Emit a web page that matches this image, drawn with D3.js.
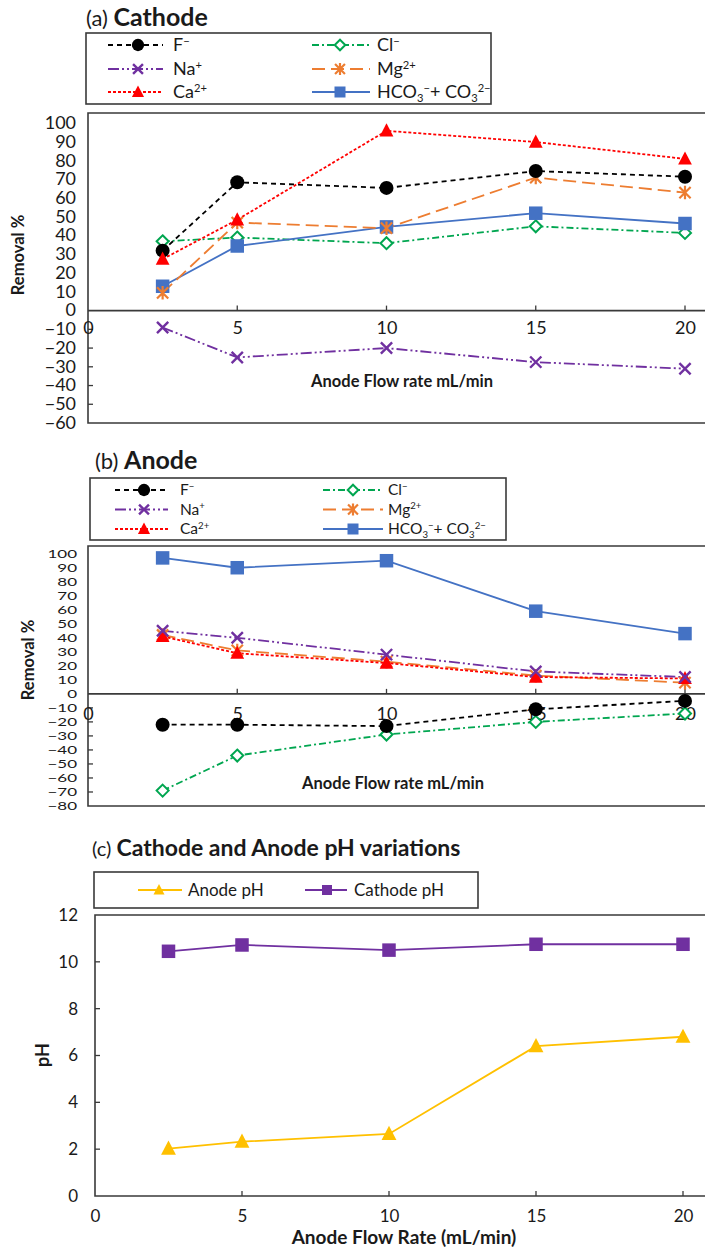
<!DOCTYPE html>
<html><head><meta charset="utf-8">
<script src="https://cdn.jsdelivr.net/npm/d3@7"></script>
<style>
body{margin:0;background:#fff}
svg{display:block}
text{font-family:Lato,"Open Sans",sans-serif;fill:#1a1a1a}
</style>
</head><body>
<svg id="chart" width="705" height="1249"></svg>
<script>
// ---------- DATA ----------
const flowRates = [2.5, 5, 10, 15, 20];
const xTickValues = [0, 5, 10, 15, 20];

const cathodeF    = [32, 68.5, 65.5, 74.5, 71.5];
const cathodeCl   = [37, 39, 36, 45, 41.5];
const cathodeNa   = [-9, -25, -20, -27.5, -31];
const cathodeMg   = [9.5, 47, 44, 71, 63];
const cathodeCa   = [27.5, 48.5, 96, 90, 81];
const cathodeHCO3 = [13, 34.5, 44.7, 52, 46.5];

const anodeF    = [-22, -22, -23, -11, -5];
const anodeCl   = [-69, -44, -29, -20, -14];
const anodeNa   = [45, 40, 28, 16, 12];
const anodeMg   = [42, 31, 23, 13, 8];
const anodeCa   = [41, 29, 22, 12, 11];
const anodeHCO3 = [97, 90, 95, 59, 43];

const anodePH   = [2.02, 2.32, 2.65, 6.4, 6.8];
const cathodePH = [10.45, 10.72, 10.5, 10.75, 10.75];

const removalTicksA = [100, 90, 80, 70, 60, 50, 40, 30, 20, 10, 0, -10, -20, -30, -40, -50, -60];
const removalTicksB = [100, 90, 80, 70, 60, 50, 40, 30, 20, 10, 0, -10, -20, -30, -40, -50, -60, -70, -80];
const phTicks = [0, 2, 4, 6, 8, 10, 12];

// ---------- STYLES ----------
const ionStyle = {
  F:    {color: "#000000", dash: "5,4",            marker: "circle"},
  Cl:   {color: "#00a650", dash: "7,3,2,3",        marker: "diamond"},
  Na:   {color: "#7030a0", dash: "11,3,2,3,2,3",   marker: "x"},
  Mg:   {color: "#ed7d31", dash: "13,6",           marker: "star"},
  Ca:   {color: "#ff0000", dash: "3,2",            marker: "triangle"},
  HCO3: {color: "#4472c4", dash: null,             marker: "square"}
};
const ionLabel = {
  F:  [["F","n"],["\u2212","sup"]],
  Cl: [["Cl","n"],["\u2212","sup"]],
  Na: [["Na","n"],["+","sup"]],
  Mg: [["Mg","n"],["2+","sup"]],
  Ca: [["Ca","n"],["2+","sup"]],
  HCO3: [["HCO","n"],["3","sub"],["\u2212","sup"],["+ CO","n"],["3","sub"],["2\u2212","sup"]]
};

const svg = d3.select("#chart");
const AXIS = "#3a3a3a";

function drawMarker(g, type, x, y, s, color) {
  if (type === "circle") {
    g.append("circle").attr("cx", x).attr("cy", y).attr("r", s * 0.56).attr("fill", color);
  } else if (type === "square") {
    g.append("rect").attr("x", x - s * 0.5).attr("y", y - s * 0.5).attr("width", s).attr("height", s)
      .attr("fill", color);
  } else if (type === "triangle") {
    const h = s * 1.0, w = s * 1.1;
    g.append("path").attr("d", `M${x},${y - h * 0.6}L${x + w / 2},${y + h * 0.45}L${x - w / 2},${y + h * 0.45}Z`)
      .attr("fill", color);
  } else if (type === "diamond") {
    const r = s * 0.48;
    g.append("path").attr("d", `M${x},${y - r}L${x + r},${y}L${x},${y + r}L${x - r},${y}Z`)
      .attr("fill", "#fff").attr("stroke", color).attr("stroke-width", 2);
  } else if (type === "x") {
    const r = s * 0.45;
    g.append("path").attr("d", `M${x - r},${y - r}L${x + r},${y + r}M${x - r},${y + r}L${x + r},${y - r}`)
      .attr("stroke", color).attr("stroke-width", 2.4).attr("fill", "none");
  } else if (type === "star") {
    const r = s * 0.45;
    g.append("path").attr("d", `M${x - r},${y - r}L${x + r},${y + r}M${x - r},${y + r}L${x + r},${y - r}M${x},${y - r * 1.2}L${x},${y + r * 1.2}`)
      .attr("stroke", color).attr("stroke-width", 2.2).attr("fill", "none");
  }
}

function writeLabel(t, parts, fs) {
  let shift = 0;
  parts.forEach(([txt, mode]) => {
    let target = 0, size = fs;
    if (mode === "sup") { target = -fs * 0.36; size = fs * 0.62; }
    else if (mode === "sub") { target = fs * 0.2; size = fs * 0.62; }
    t.append("tspan").text(txt).attr("font-size", size).attr("dy", target - shift);
    shift = target;
  });
}

function removalPanel(cfg) {
  const g = svg.append("g");
  const x = d3.scaleLinear().domain([0, 20]).range(cfg.xRange);
  const y = d3.scaleLinear().domain(cfg.yDomain).range(cfg.yRange);
  const left = cfg.xRange[0], top = y(cfg.yDomain[1]), bottom = y(cfg.yDomain[0]);

  g.append("path").attr("d", `M712,${top}H${left}V${bottom}H712`).attr("fill", "none")
    .attr("stroke", AXIS).attr("stroke-width", 1.6);
  g.append("line").attr("x1", left).attr("x2", 712).attr("y1", y(0)).attr("y2", y(0))
    .attr("stroke", AXIS).attr("stroke-width", 1.6);

  const yAxis = d3.axisLeft(y).tickValues(cfg.yTicks).tickSize(0).tickPadding(0);
  const ya = g.append("g").attr("transform", `translate(${cfg.yLabelX},0)`).call(yAxis);
  ya.select(".domain").remove();
  ya.selectAll("text").attr("font-size", cfg.yTickFs).attr("fill", "#1a1a1a")
    .attr("transform", `scale(1,${cfg.yTickSquash})`)
    .style("font-family", "Lato, sans-serif");
  g.selectAll(".negtick").data(cfg.yTicks.filter(v => v < 0 && v > cfg.yDomain[0])).enter()
    .append("line").attr("x1", left).attr("x2", left + 5).attr("y1", d => y(d)).attr("y2", d => y(d))
    .attr("stroke", AXIS).attr("stroke-width", 1.3);

  const xAxis = d3.axisBottom(x).tickValues(xTickValues).tickSize(0).tickPadding(cfg.xLabelPad);
  const xa = g.append("g").attr("transform", `translate(0,${y(0)})`).call(xAxis);
  xa.select(".domain").remove();
  xa.selectAll("text").attr("font-size", cfg.xTickFs).attr("fill", "#1a1a1a")
    .style("font-family", "Lato, sans-serif");
  g.selectAll(".xtick").data(xTickValues.filter(v => v > 0)).enter().append("line")
    .attr("x1", d => x(d)).attr("x2", d => x(d)).attr("y1", y(0)).attr("y2", y(0) - 5)
    .attr("stroke", AXIS).attr("stroke-width", 1.3);

  g.append("text").attr("x", cfg.xTitle[0]).attr("y", cfg.xTitle[1]).attr("text-anchor", "middle")
    .attr("font-weight", "bold").attr("font-size", 16.5).text("Anode Flow rate mL/min");
  g.append("text").attr("transform", `translate(${cfg.yTitle[0]},${cfg.yTitle[1]}) rotate(-90)`)
    .attr("text-anchor", "middle").attr("font-weight", "bold").attr("font-size", 16.5).text("Removal %");

  const line = d3.line().x((d, i) => x(flowRates[i])).y(d => y(d));
  cfg.order.forEach(k => {
    const st = ionStyle[k], vals = cfg.data[k];
    g.append("path").attr("d", line(vals)).attr("fill", "none").attr("stroke", st.color)
      .attr("stroke-width", 1.8).attr("stroke-dasharray", st.dash);
  });
  cfg.order.forEach(k => {
    const st = ionStyle[k], vals = cfg.data[k];
    const mg = g.append("g");
    vals.forEach((v, i) => drawMarker(mg, st.marker, x(flowRates[i]), y(v), st.marker === "square" ? 13.5 : 12.5, st.color));
  });

  const tt = g.append("text").attr("x", cfg.title.x).attr("y", cfg.title.y).attr("font-size", cfg.title.fs);
  tt.append("tspan").attr("font-size", cfg.title.fs - 1).text(cfg.title.pre);
  tt.append("tspan").attr("font-size", cfg.title.fs + 2).attr("font-weight", "bold").text(cfg.title.main);

  const L = cfg.legend;
  g.append("rect").attr("x", L.box[0]).attr("y", L.box[1]).attr("width", L.box[2] - L.box[0])
    .attr("height", L.box[3] - L.box[1]).attr("fill", "#fff").attr("stroke", AXIS).attr("stroke-width", 1.6);
  const layout = [["F", 0, 0], ["Cl", 1, 0], ["Na", 0, 1], ["Mg", 1, 1], ["Ca", 0, 2], ["HCO3", 1, 2]];
  layout.forEach(([k, c, r]) => {
    const st = ionStyle[k], col = L.cols[c], yy = L.rows[r];
    g.append("line").attr("x1", col[0]).attr("x2", col[1]).attr("y1", yy).attr("y2", yy)
      .attr("stroke", st.color).attr("stroke-width", 1.8).attr("stroke-dasharray", st.dash);
    drawMarker(g, st.marker, col[2], yy, 11, st.color);
    const t = g.append("text").attr("x", col[3]).attr("y", yy + L.fs * 0.35).attr("font-size", L.fs);
    writeLabel(t, ionLabel[k], L.fs);
  });
}

removalPanel({
  xRange: [88, 685], yDomain: [-60, 105.5], yRange: [423, 113],
  yTicks: removalTicksA, yLabelX: 76, yTickFs: 18, yTickSquash: 0.92, xTickFs: 18, xLabelPad: 11,
  xTitle: [402, 387], yTitle: [24, 255],
  order: ["Na", "Cl", "HCO3", "Mg", "F", "Ca"],
  data: {F: cathodeF, Cl: cathodeCl, Na: cathodeNa, Mg: cathodeMg, Ca: cathodeCa, HCO3: cathodeHCO3},
  title: {x: 86, y: 26, fs: 23, pre: "(a) ", main: "Cathode"},
  legend: {box: [86, 33, 491, 104], rows: [45, 69, 92], fs: 18,
    cols: [[108, 163, 138, 173], [312, 370, 340, 377]]}
});

removalPanel({
  xRange: [88, 685], yDomain: [-80, 105.5], yRange: [806, 546],
  yTicks: removalTicksB, yLabelX: 77, yTickFs: 17, yTickSquash: 0.72, xTickFs: 18, xLabelPad: 13,
  xTitle: [393, 789], yTitle: [34, 660],
  order: ["Cl", "F", "Mg", "Ca", "Na", "HCO3"],
  data: {F: anodeF, Cl: anodeCl, Na: anodeNa, Mg: anodeMg, Ca: anodeCa, HCO3: anodeHCO3},
  title: {x: 95, y: 469, fs: 23, pre: "(b) ", main: "Anode"},
  legend: {box: [90, 478, 506, 540], rows: [490, 509.5, 529], fs: 15.5,
    cols: [[115, 168, 144, 180], [323, 383, 353, 388]]}
});

// ---------- PANEL C ----------
(function () {
  const g = svg.append("g");
  const x = d3.scaleLinear().domain([0, 20]).range([95, 683]);
  const y = d3.scaleLinear().domain([0, 12]).range([1196, 915]);
  g.append("path").attr("d", `M712,${y(12)}H${x(0)}V${y(0)}H712`).attr("fill", "none")
    .attr("stroke", AXIS).attr("stroke-width", 1.6);

  const ya = g.append("g").attr("transform", `translate(${x(0) - 17},0)`)
    .call(d3.axisLeft(y).tickValues(phTicks).tickSize(0).tickPadding(0));
  ya.select(".domain").remove();
  ya.selectAll("text").attr("font-size", 17).attr("fill", "#1a1a1a").style("font-family", "Lato, sans-serif");
  g.selectAll(".yt").data(phTicks.filter(v => v > 0 && v < 12)).enter().append("line")
    .attr("x1", x(0)).attr("x2", x(0) + 5).attr("y1", d => y(d)).attr("y2", d => y(d))
    .attr("stroke", AXIS).attr("stroke-width", 1.3);

  const xa = g.append("g").attr("transform", `translate(0,${y(0)})`)
    .call(d3.axisBottom(x).tickValues(xTickValues).tickSize(0).tickPadding(14));
  xa.select(".domain").remove();
  xa.selectAll("text").attr("font-size", 17).attr("fill", "#1a1a1a").style("font-family", "Lato, sans-serif");
  g.selectAll(".xt").data(xTickValues.filter(v => v > 0)).enter().append("line")
    .attr("x1", d => x(d)).attr("x2", d => x(d)).attr("y1", y(0)).attr("y2", y(0) - 5)
    .attr("stroke", AXIS).attr("stroke-width", 1.3);

  g.append("text").attr("x", 404).attr("y", 1244).attr("text-anchor", "middle").attr("font-weight", "bold")
    .attr("font-size", 19).text("Anode Flow Rate (mL/min)");
  g.append("text").attr("transform", `translate(49,1055) rotate(-90)`).attr("text-anchor", "middle")
    .attr("font-weight", "bold").attr("font-size", 18).text("pH");

  const line = d3.line().x((d, i) => x(flowRates[i])).y(d => y(d));
  const series = [
    {name: "Anode pH", vals: anodePH, color: "#ffc000", marker: "triangle"},
    {name: "Cathode pH", vals: cathodePH, color: "#7030a0", marker: "square"}
  ];
  series.forEach(s => {
    g.append("path").attr("d", line(s.vals)).attr("fill", "none").attr("stroke", s.color).attr("stroke-width", 1.8);
    s.vals.forEach((v, i) => drawMarker(g, s.marker, x(flowRates[i]), y(v), 13.5, s.color));
  });

  const tt = g.append("text").attr("x", 92).attr("y", 856).attr("font-size", 22);
  tt.append("tspan").attr("font-size", 20).text("(c) ");
  tt.append("tspan").attr("font-weight", "bold").attr("font-size", 23).text("Cathode and Anode pH variations");

  g.append("rect").attr("x", 94).attr("y", 872).attr("width", 384).attr("height", 36)
    .attr("fill", "#fff").attr("stroke", AXIS).attr("stroke-width", 1.6);
  const legCols = [[138, 182, 159, 188], [305, 347, 327, 354]];
  series.forEach((s, i) => {
    const c = legCols[i];
    g.append("line").attr("x1", c[0]).attr("x2", c[1]).attr("y1", 890).attr("y2", 890)
      .attr("stroke", s.color).attr("stroke-width", 1.8);
    drawMarker(g, s.marker, c[2], 890, 10, s.color);
    g.append("text").attr("x", c[3]).attr("y", 896).attr("font-size", 17).text(s.name);
  });
})();
</script>
</body></html>
